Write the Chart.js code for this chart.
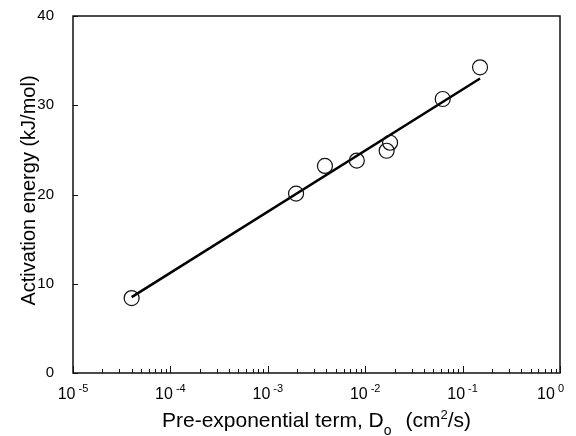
<!DOCTYPE html>
<html>
<head>
<meta charset="utf-8">
<script src="https://cdn.jsdelivr.net/npm/chart.js@4"></script>
<style>
  html, body { margin: 0; padding: 0; background: #fff; }
  #wrap { width: 576px; height: 436px; position: relative; }
</style>
</head>
<body>
<div id="wrap"><canvas id="chart"></canvas></div>
<script>
// Measured points: pre-exponential term D0 (cm2/s) vs activation energy (kJ/mol)
const diffusivity = [4.0e-5, 1.95e-3, 3.86e-3, 8.2e-3, 1.66e-2, 1.8e-2, 6.25e-2, 0.151]
const activationEnergy = [8.4, 20.1, 23.2, 23.8, 24.9, 25.8, 30.7, 34.25]

// Regression line end points
const fitX = [4.0e-5, 0.151]
const fitY = [8.5, 33.0]

// Decade tick exponents on the x axis
const xExponents = [-5, -4, -3, -2, -1, 0]

const FONT = "'Liberation Sans', Arial, sans-serif"

// Frame, inward tick marks, superscript tick labels and axis titles
const decorations = {
  id: "decorations",
  afterDraw(chart) {
    const { ctx, chartArea: a, scales: { x, y } } = chart
    ctx.save()
    ctx.strokeStyle = "#111"
    ctx.fillStyle = "#000"

    // x ticks: majors at each decade, minors at 2..9
    ctx.lineWidth = 1
    xExponents.forEach(e => {
      for (let k = 1; k <= 9; k++) {
        const v = k * Math.pow(10, e)
        if (v > x.max * 1.0001) continue
        const px = Math.round(x.getPixelForValue(v)) + 0.5
        const len = k === 1 ? 7 : 4
        ctx.beginPath()
        ctx.moveTo(px, a.bottom)
        ctx.lineTo(px, a.bottom - len)
        ctx.stroke()
      }
    })

    // y ticks (inward)
    y.ticks.forEach(t => {
      const py = Math.round(y.getPixelForValue(t.value)) + 0.5
      ctx.beginPath()
      ctx.moveTo(a.left, py)
      ctx.lineTo(a.left + 5, py)
      ctx.stroke()
    })

    // frame
    ctx.lineWidth = 1.5
    ctx.strokeRect(a.left, a.top, a.right - a.left, a.bottom - a.top)

    // x tick labels "10^n"
    ctx.textBaseline = "alphabetic"
    ctx.textAlign = "left"
    xExponents.forEach(e => {
      const px = x.getPixelForValue(Math.pow(10, e))
      const base = "10"
      const sup = e === 0 ? "0" : "-" + Math.abs(e)
      ctx.font = "16px " + FONT
      const wb = ctx.measureText(base).width
      ctx.font = "11px " + FONT
      const ws = ctx.measureText(sup).width
      const w = wb + 3 + ws
      let left = px - w / 2
      if (left + w > 564) left = 564 - w
      ctx.font = "16px " + FONT
      ctx.fillText(base, left, 399)
      ctx.font = "11px " + FONT
      ctx.fillText(sup, left + wb + 3, 392)
    })

    // x title with subscript and superscript
    const parts = [
      { t: "Pre-exponential term, D", size: 21, dy: 0, gap: 0 },
      { t: "o", size: 14, dy: 8, gap: 14 },
      { t: "(cm", size: 21, dy: 0, gap: 0 },
      { t: "2", size: 13, dy: -8, gap: 0 },
      { t: "/s)", size: 21, dy: 0, gap: 0 }
    ]
    let total = 0
    parts.forEach(p => {
      ctx.font = p.size + "px " + FONT
      p.w = ctx.measureText(p.t).width
      total += p.w + p.gap
    })
    let cx = (a.left + a.right) / 2 - total / 2
    parts.forEach(p => {
      ctx.font = p.size + "px " + FONT
      ctx.fillText(p.t, cx, 427 + p.dy)
      cx += p.w + p.gap
    })

    // y title
    ctx.translate(35, (a.top + a.bottom) / 2 - 4)
    ctx.rotate(-Math.PI / 2)
    ctx.textAlign = "center"
    ctx.font = "20px " + FONT
    ctx.fillText("Activation energy (kJ/mol)", 0, 0)

    ctx.restore()
  }
}

const ctx = document.getElementById("chart").getContext("2d")
new Chart(ctx, {
  type: "scatter",
  data: {
    datasets: [
      {
        label: "Fit",
        type: "line",
        data: fitX.map((v, i) => ({ x: v, y: fitY[i] })),
        borderColor: "#000",
        borderWidth: 2.5,
        pointRadius: 0,
        fill: false,
        tension: 0,
        order: 2
      },
      {
        label: "Data",
        data: diffusivity.map((v, i) => ({ x: v, y: activationEnergy[i] })),
        pointStyle: "circle",
        pointRadius: 7.5,
        pointBorderWidth: 1.2,
        pointBorderColor: "#111",
        pointBackgroundColor: "rgba(0,0,0,0)",
        order: 1
      }
    ]
  },
  options: {
    responsive: true,
    maintainAspectRatio: false,
    animation: false,
    layout: { padding: { left: 0, top: 16, right: 16, bottom: 0 } },
    scales: {
      x: {
        type: "logarithmic",
        min: 1e-5,
        max: 1,
        grid: { display: false, drawTicks: false },
        border: { display: false },
        ticks: { display: false },
        afterFit(scale) { scale.height = 63 }
      },
      y: {
        min: 0,
        max: 40,
        grid: { display: false, drawTicks: false },
        border: { display: false },
        ticks: {
          stepSize: 10,
          padding: 19,
          color: "#000",
          font: { family: FONT, size: 15 }
        },
        afterFit(scale) {
          scale.width = 73
          scale.paddingTop = 0
          scale.paddingBottom = 0
        }
      }
    },
    plugins: {
      legend: { display: false },
      tooltip: { enabled: false }
    }
  },
  plugins: [decorations]
})
</script>
</body>
</html>
